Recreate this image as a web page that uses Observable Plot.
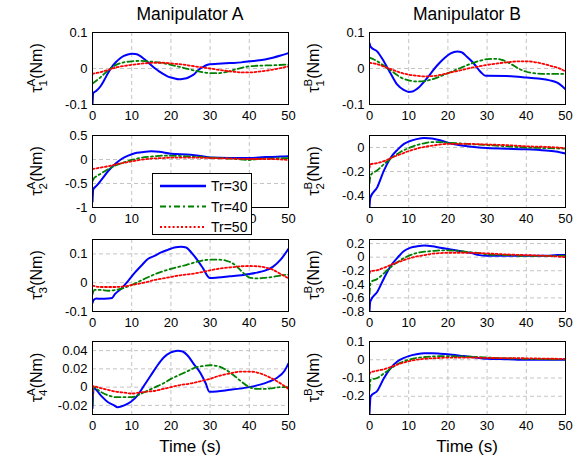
<!DOCTYPE html>
<html><head><meta charset="utf-8">
<script src="https://cdn.jsdelivr.net/npm/d3@7"></script>
<script src="https://cdn.jsdelivr.net/npm/@observablehq/plot@0.6"></script>
<style>
html,body{margin:0;padding:0;background:#fff;}
#chart{position:relative;width:583px;height:462px;overflow:hidden;font-family:'Liberation Sans',Arial,sans-serif;}
</style></head><body><div id="chart"></div>
<script>
// ---------- data ----------
const columnTitles = ["Manipulator A", "Manipulator B"];
const xLabel = "Time (s)";
const seriesNames = ["Tr=30", "Tr=40", "Tr=50"];
const timeTicks = [0, 10, 20, 30, 40, 50];

const yTicksA1 = [-0.1, 0, 0.1];        const yDomainA1 = [-0.1, 0.1];
const yTicksA2 = [-1, -0.5, 0, 0.5];    const yDomainA2 = [-1, 0.5];
const yTicksA3 = [-0.1, 0, 0.1];        const yDomainA3 = [-0.1, 0.15];
const yTicksA4 = [-0.02, 0, 0.02, 0.04];const yDomainA4 = [-0.03, 0.05];
const yTicksB1 = [-0.1, 0, 0.1];        const yDomainB1 = [-0.1, 0.1];
const yTicksB2 = [-0.4, -0.2, 0];       const yDomainB2 = [-0.5, 0.1];
const yTicksB3 = [-0.8, -0.6, -0.4, -0.2, 0, 0.2]; const yDomainB3 = [-0.8, 0.26];
const yTicksB4 = [-0.2, -0.1, 0, 0.1];  const yDomainB4 = [-0.3, 0.1];

// [time, torque] pairs
const A1_30 = [[0,-0.1],[0.2,-0.068],[1,-0.062],[2,-0.05],[3,-0.032],[4,-0.012],[5,0.005],[6,0.018],[7,0.028],[8,0.035],[9,0.039],[10,0.041],[11,0.04],[12,0.036],[13,0.028],[14,0.019],[15,0.009],[16,0],[17,-0.008],[18,-0.015],[19,-0.021],[20,-0.025],[21,-0.028],[22,-0.03],[23,-0.029],[24,-0.027],[25,-0.022],[26,-0.015],[27,-0.004],[28,0.003],[29,0.009],[30,0.012],[32,0.013],[35,0.015],[38,0.017],[40,0.02],[42,0.022],[44,0.025],[46,0.03],[48,0.036],[50,0.043]];
const A1_40 = [[0,-0.042],[2,-0.025],[4,-0.005],[6,0.01],[8,0.017],[10,0.02],[12,0.021],[15,0.019],[18,0.015],[20,0.01],[22,0.005],[25,-0.003],[28,-0.01],[30,-0.013],[32,-0.013],[34,-0.01],[36,-0.004],[38,0.002],[40,0.006],[43,0.008],[46,0.009],[50,0.011]];
const A1_50 = [[0,-0.015],[2,-0.01],[4,-0.004],[6,0.003],[8,0.007],[10,0.01],[13,0.014],[16,0.016],[18,0.016],[20,0.014],[23,0.011],[26,0.006],[30,0],[33,-0.005],[36,-0.009],[38,-0.011],[40,-0.011],[43,-0.008],[46,-0.003],[50,0.006]];

const A2_30 = [[0,-0.88],[0.2,-0.62],[1,-0.55],[2.3,-0.42],[4,-0.24],[5.7,-0.1],[7.4,0.01],[9.1,0.08],[10.8,0.13],[12.5,0.15],[15,0.17],[17,0.16],[20,0.12],[25,0.1],[28,0.07],[30,0.04],[35,0.03],[40,0.03],[44,0.05],[48,0.06],[50,0.07]];
const A2_40 = [[0,-0.45],[0.3,-0.4],[1,-0.35],[2,-0.3],[4,-0.2],[6,-0.12],[8,-0.06],[10,-0.01],[12,0.03],[15,0.06],[18,0.08],[20,0.08],[23,0.07],[26,0.06],[30,0.04],[35,0.02],[40,-0.01],[42,0.01],[45,0.02],[50,0.03]];
const A2_50 = [[0,-0.2],[2,-0.17],[4,-0.14],[6,-0.1],[8,-0.07],[10,-0.04],[12,-0.01],[15,0.02],[18,0.03],[20,0.04],[25,0.04],[30,0.03],[35,0.02],[40,0.01],[45,0.01],[50,-0.01]];

const A3_30 = [[0,-0.07],[0.3,-0.06],[1,-0.055],[2,-0.056],[4,-0.055],[5,-0.053],[5.7,-0.04],[7.4,-0.02],[9.1,0.006],[10.8,0.035],[12.5,0.06],[14.2,0.083],[15.8,0.093],[17.5,0.105],[19.2,0.114],[20.9,0.122],[22.6,0.125],[23.9,0.122],[25.2,0.105],[26.9,0.076],[28.1,0.052],[29.8,0.017],[30,0.016],[32,0.018],[35,0.022],[38,0.026],[40,0.03],[42,0.035],[44,0.042],[46,0.055],[48,0.08],[50,0.118]];
const A3_40 = [[0,-0.04],[0.5,-0.025],[2,-0.025],[4,-0.028],[6,-0.025],[8,-0.018],[10,-0.008],[12,0.005],[14,0.018],[16,0.03],[18,0.04],[20,0.048],[22,0.055],[24,0.062],[26,0.07],[28,0.077],[30,0.08],[32,0.08],[34,0.077],[36,0.065],[38,0.04],[39.5,0.022],[40,0.018],[42,0.015],[44,0.017],[46,0.02],[48,0.025],[50,0.028]];
const A3_50 = [[0,-0.01],[2,-0.015],[5,-0.015],[8,-0.013],[10,-0.008],[12,-0.003],[14,0.003],[16,0.01],[18,0.015],[20,0.02],[22,0.025],[25,0.03],[28,0.037],[30,0.043],[32,0.048],[35,0.053],[38,0.057],[40,0.058],[42,0.057],[44,0.053],[46,0.045],[48,0.03],[50,0.015]];

const A4_30 = [[0,-0.023],[0.3,-0.001],[2.1,-0.009],[3.8,-0.016],[5.5,-0.02],[6.4,-0.022],[8.1,-0.02],[9.8,-0.016],[11.5,-0.009],[13.2,0.002],[14.9,0.013],[16.6,0.024],[18.3,0.033],[20,0.038],[21.7,0.04],[23,0.039],[24.2,0.035],[25.9,0.025],[27.6,0.015],[28.9,0.004],[29.8,-0.005],[30,-0.005],[35,-0.003],[40,0],[43,0.003],[45,0.006],[47,0.01],[49,0.018],[50,0.026]];
const A4_40 = [[0,-0.02],[0.2,0],[2,-0.005],[4,-0.009],[6,-0.011],[8,-0.011],[10,-0.011],[12,-0.008],[14,-0.004],[16,0],[18,0.004],[20,0.009],[22,0.013],[24,0.017],[26,0.021],[28,0.023],[30,0.024],[32,0.023],[34,0.019],[36,0.013],[38,0.006],[40,0],[42,-0.002],[44,-0.002],[46,-0.001],[48,0],[50,0]];
const A4_50 = [[0,-0.01],[0.2,0.001],[2,-0.001],[4,-0.003],[6,-0.005],[8,-0.006],[10,-0.007],[12,-0.006],[14,-0.005],[16,-0.004],[18,-0.002],[20,0],[22,0.002],[25,0.004],[28,0.007],[30,0.009],[32,0.012],[35,0.015],[38,0.017],[40,0.017],[42,0.016],[44,0.013],[46,0.009],[48,0.004],[50,-0.002]];

const B1_30 = [[0,0.07],[0.3,0.06],[2,0.047],[3.7,0.019],[5.4,-0.014],[7.1,-0.045],[8.8,-0.06],[10,-0.065],[11,-0.064],[12.2,-0.056],[13.9,-0.037],[15.6,-0.014],[17.3,0.009],[19,0.028],[20.7,0.042],[22.4,0.047],[23.5,0.045],[24.9,0.032],[26.6,0.014],[28.3,-0.009],[29.6,-0.02],[30,-0.02],[35,-0.021],[40,-0.025],[43,-0.028],[46,-0.033],[48,-0.04],[50,-0.058]];
const B1_40 = [[0,0.03],[2,0.02],[4,0.005],[6,-0.01],[8,-0.025],[10,-0.033],[12,-0.036],[14,-0.035],[16,-0.03],[18,-0.022],[20,-0.013],[22,-0.004],[24,0.005],[26,0.014],[28,0.021],[30,0.026],[32,0.027],[34,0.023],[36,0.013],[38,0],[40,-0.009],[42,-0.013],[45,-0.015],[50,-0.015]];
const B1_50 = [[0,0.016],[2,0.012],[4,0.004],[6,-0.004],[8,-0.012],[10,-0.017],[12,-0.02],[14,-0.022],[16,-0.021],[18,-0.018],[20,-0.013],[22,-0.008],[24,-0.003],[26,0.002],[28,0.006],[30,0.01],[32,0.013],[34,0.016],[36,0.018],[38,0.02],[40,0.02],[42,0.018],[44,0.014],[46,0.008],[48,0.002],[50,-0.008]];

const B2_30 = [[0,-0.5],[0.2,-0.42],[2,-0.33],[3.7,-0.19],[5.4,-0.085],[7.1,-0.02],[8.8,0.03],[10,0.05],[12,0.07],[14,0.08],[16,0.075],[18,0.06],[20,0.04],[25,0.01],[30,-0.005],[35,-0.01],[40,-0.015],[45,-0.025],[48,-0.035],[50,-0.05]];
const B2_40 = [[0,-0.3],[0.3,-0.23],[2,-0.19],[4,-0.13],[6,-0.08],[8,-0.035],[10,-0.005],[12,0.02],[14,0.035],[16,0.045],[18,0.045],[20,0.04],[25,0.03],[30,0.02],[35,0.01],[40,0],[45,-0.005],[50,-0.01]];
const B2_50 = [[0,-0.17],[0.2,-0.14],[2,-0.13],[4,-0.11],[6,-0.08],[8,-0.055],[10,-0.03],[12,-0.01],[14,0.005],[16,0.015],[18,0.025],[20,0.03],[25,0.03],[30,0.025],[35,0.02],[40,0.01],[45,0.005],[50,-0.005]];

const B3_30 = [[0,-0.8],[0.2,-0.65],[2,-0.51],[3.7,-0.31],[5.4,-0.13],[7.1,-0.01],[8.8,0.09],[10.5,0.14],[12.2,0.16],[14,0.17],[16,0.16],[18,0.14],[20,0.12],[23,0.09],[26,0.06],[28,0.03],[30,0.02],[35,0.02],[40,0.02],[45,0.02],[48,0.03],[50,0.03]];
const B3_40 = [[0,-0.55],[0.3,-0.37],[2,-0.32],[4,-0.22],[6,-0.12],[8,-0.04],[10,0.02],[12,0.06],[14,0.08],[16,0.09],[18,0.1],[20,0.1],[23,0.09],[26,0.07],[28,0.06],[30,0.04],[35,0.03],[40,0.02],[45,0.02],[50,0.02]];
const B3_50 = [[0,-0.24],[0.2,-0.21],[2,-0.19],[4,-0.15],[6,-0.1],[8,-0.06],[10,-0.02],[12,0.01],[14,0.03],[16,0.05],[18,0.06],[20,0.065],[24,0.065],[28,0.06],[30,0.055],[35,0.04],[40,0.03],[45,0.02],[50,0]];

const B4_30 = [[0,-0.3],[0.3,-0.2],[2,-0.17],[3.7,-0.1],[5.4,-0.046],[7.1,-0.01],[8.8,0.01],[10,0.02],[12,0.03],[14,0.035],[16,0.035],[18,0.033],[20,0.03],[24,0.02],[28,0.01],[30,0.005],[35,0.003],[40,0],[45,0],[50,0]];
const B4_40 = [[0,-0.17],[0.3,-0.11],[2,-0.1],[4,-0.07],[6,-0.04],[8,-0.015],[10,0],[12,0.01],[14,0.015],[16,0.018],[18,0.02],[20,0.02],[24,0.018],[28,0.015],[30,0.012],[35,0.008],[40,0.005],[45,0.003],[50,0.002]];
const B4_50 = [[0,-0.08],[0.2,-0.07],[2,-0.06],[4,-0.05],[6,-0.035],[8,-0.02],[10,-0.008],[12,0],[14,0.005],[16,0.008],[18,0.01],[20,0.012],[25,0.012],[30,0.01],[35,0.009],[40,0.008],[45,0.006],[50,0.005]];

// ---------- styling / layout ----------
const colors = ["#0000ff", "#008000", "#ff0000"];
const dashes = [null, "6,3,2,3", "2,2.2"];
const widths = [2, 1.8, 1.8];
const fontFamily = "'Liberation Sans', Arial, Helvetica, sans-serif";
const frameLeft = [92, 369];
const frameWidth = 196;
const rowTop = [32, 135, 239, 341];
const rowBottom = [104, 207, 311, 414];
const mL = 50, mR = 12, mT = 6, mB = 25;

const panels = [
  {col:0,row:0,sup:"A",sub:"1",domain:yDomainA1,ticks:yTicksA1,series:[A1_30,A1_40,A1_50]},
  {col:0,row:1,sup:"A",sub:"2",domain:yDomainA2,ticks:yTicksA2,series:[A2_30,A2_40,A2_50]},
  {col:0,row:2,sup:"A",sub:"3",domain:yDomainA3,ticks:yTicksA3,series:[A3_30,A3_40,A3_50]},
  {col:0,row:3,sup:"A",sub:"4",domain:yDomainA4,ticks:yTicksA4,series:[A4_30,A4_40,A4_50]},
  {col:1,row:0,sup:"B",sub:"1",domain:yDomainB1,ticks:yTicksB1,series:[B1_30,B1_40,B1_50]},
  {col:1,row:1,sup:"B",sub:"2",domain:yDomainB2,ticks:yTicksB2,series:[B2_30,B2_40,B2_50]},
  {col:1,row:2,sup:"B",sub:"3",domain:yDomainB3,ticks:yTicksB3,series:[B3_30,B3_40,B3_50]},
  {col:1,row:3,sup:"B",sub:"4",domain:yDomainB4,ticks:yTicksB4,series:[B4_30,B4_40,B4_50]},
];

const chart = document.getElementById("chart");

for (const p of panels) {
  const h = rowBottom[p.row] - rowTop[p.row];
  const svg = Plot.plot({
    width: mL + frameWidth + mR,
    height: mT + h + mB,
    marginLeft: mL, marginRight: mR, marginTop: mT, marginBottom: mB,
    style: {fontFamily, fontSize: "13px", color: "#000", background: "transparent", overflow: "visible"},
    x: {domain: [0, 50]},
    y: {domain: p.domain},
    marks: [
      Plot.gridX(timeTicks, {stroke: "#c4c4c4", strokeOpacity: 1, strokeDasharray: "4,3"}),
      Plot.gridY(p.ticks, {stroke: "#c4c4c4", strokeOpacity: 1, strokeDasharray: "4,3"}),
      ...p.series.map((s, i) => Plot.line(s, {
        x: d => d[0], y: d => d[1], stroke: colors[i], strokeWidth: widths[i],
        strokeDasharray: dashes[i], curve: "monotone-x", clip: true
      })),
      Plot.frame({stroke: "#000", strokeWidth: 1}),
      Plot.axisX(timeTicks, {tickSize: 0, tickPadding: 6, tickFormat: d => String(d), label: null, fontSize: 13}),
      Plot.axisY(p.ticks, {tickSize: 0, tickPadding: 5, tickFormat: d => String(d), label: null, fontSize: 13})
    ]
  });
  svg.style.position = "absolute";
  svg.style.left = (frameLeft[p.col] - mL) + "px";
  svg.style.top = (rowTop[p.row] - mT) + "px";
  chart.appendChild(svg);
}

// ---------- overlay: titles, axis labels, legend ----------
const ov = d3.select(chart).append("svg")
  .attr("width", 583).attr("height", 462)
  .style("position", "absolute").style("left", "0px").style("top", "0px")
  .style("font-family", fontFamily);

columnTitles.forEach((t, c) => {
  ov.append("text").attr("x", frameLeft[c] + frameWidth / 2).attr("y", 20)
    .attr("text-anchor", "middle").attr("font-size", 17.5).attr("fill", "#000").text(t);
  ov.append("text").attr("x", frameLeft[c] + frameWidth / 2).attr("y", 452)
    .attr("text-anchor", "middle").attr("font-size", 17).attr("fill", "#000").text(xLabel);
});

for (const p of panels) {
  const yc = (rowTop[p.row] + rowBottom[p.row]) / 2;
  const g = ov.append("g").attr("transform", `translate(${frameLeft[p.col] - 50},${yc}) rotate(-90)`);
  const t = g.append("text").attr("text-anchor", "middle").attr("font-size", 16).attr("fill", "#000");
  t.append("tspan").text("τ");
  t.append("tspan").attr("font-size", 11.5).attr("dy", -7.5).text(p.sup);
  t.append("tspan").attr("font-size", 11.5).attr("dx", -7.7).attr("dy", 12).text(p.sub);
  t.append("tspan").attr("dx", 1.3).attr("dy", -4.5).text("(Nm)");
}

// legend
const lg = ov.append("g");
lg.append("rect").attr("x", 152.5).attr("y", 173.5).attr("width", 99).attr("height", 61)
  .attr("fill", "#fff").attr("stroke", "#000").attr("stroke-width", 1);
seriesNames.forEach((n, i) => {
  const y = 186 + i * 20.5;
  lg.append("line").attr("x1", 160).attr("x2", 206).attr("y1", y).attr("y2", y)
    .attr("stroke", colors[i]).attr("stroke-width", i === 0 ? 2.6 : 2)
    .attr("stroke-dasharray", dashes[i]);
  lg.append("text").attr("x", 211).attr("y", y + 5).attr("font-size", 14).attr("fill", "#000").text(n);
});
</script></body></html>
